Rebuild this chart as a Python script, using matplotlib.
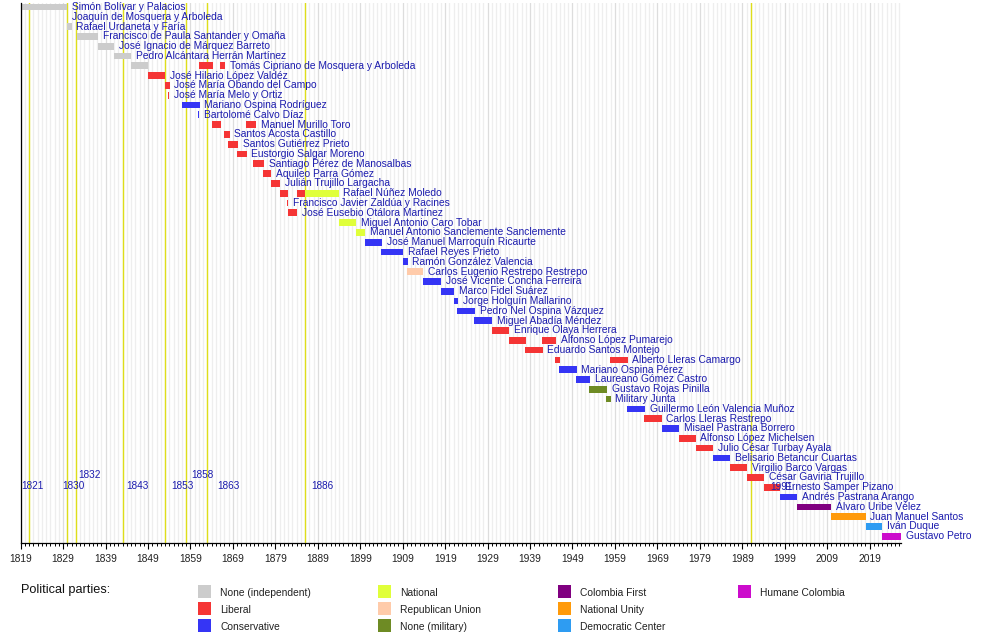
import matplotlib
matplotlib.use("Agg")
import matplotlib.pyplot as plt
from matplotlib.ticker import FixedLocator
from matplotlib.patches import Rectangle

plt.rcParams['font.family'] = ['Liberation Sans', 'DejaVu Sans']

# ---------------- data ----------------
names = [
    "Simón Bolívar y Palacios", "Joaquín de Mosquera y Arboleda", "Rafael Urdaneta y Faría",
    "Francisco de Paula Santander y Omaña", "José Ignacio de Márquez Barreto",
    "Pedro Alcántara Herrán Martínez", "Tomás Cipriano de Mosquera y Arboleda",
    "José Hilario López Valdéz", "José María Obando del Campo", "José María Melo y Ortiz",
    "Mariano Ospina Rodríguez", "Bartolomé Calvo Díaz", "Manuel Murillo Toro",
    "Santos Acosta Castillo", "Santos Gutiérrez Prieto", "Eustorgio Salgar Moreno",
    "Santiago Pérez de Manosalbas", "Aquileo Parra Gómez", "Julián Trujillo Largacha",
    "Rafael Núñez Moledo", "Francisco Javier Zaldúa y Racines", "José Eusebio Otálora Martínez",
    "Miguel Antonio Caro Tobar", "Manuel Antonio Sanclemente Sanclemente",
    "José Manuel Marroquín Ricaurte", "Rafael Reyes Prieto", "Ramón González Valencia",
    "Carlos Eugenio Restrepo Restrepo", "José Vicente Concha Ferreira", "Marco Fidel Suárez",
    "Jorge Holguín Mallarino", "Pedro Nel Ospina Vázquez", "Miguel Abadía Méndez",
    "Enrique Olaya Herrera", "Alfonso López Pumarejo", "Eduardo Santos Montejo",
    "Alberto Lleras Camargo", "Mariano Ospina Pérez", "Laureano Gómez Castro",
    "Gustavo Rojas Pinilla", "Military Junta", "Guillermo León Valencia Muñoz",
    "Carlos Lleras Restrepo", "Misael Pastrana Borrero", "Alfonso López Michelsen",
    "Julio César Turbay Ayala", "Belisario Betancur Cuartas", "Virgilio Barco Vargas",
    "César Gaviria Trujillo", "Ernesto Samper Pizano", "Andrés Pastrana Arango",
    "Álvaro Uribe Vélez", "Juan Manuel Santos", "Iván Duque", "Gustavo Petro",
]

party_names = ["None (independent)", "Liberal", "Conservative", "National", "Republican Union",
               "None (military)", "Colombia First", "National Unity", "Democratic Center",
               "Humane Colombia"]
party_colors = ["#cccccc", "#f53535", "#3535f5", "#e0ff3a", "#ffcbaa",
                "#6e8b24", "#800080", "#ff9a0a", "#2e9cf2", "#cc0ccc"]

term_who = [0, 1, 2, 3, 4, 5, 6, 6, 6, 7, 8, 9, 10, 11, 12, 12, 13, 14, 15, 16, 17, 18,
            19, 19, 19, 20, 21, 22, 23, 24, 25, 26, 27, 28, 29, 30, 31, 32, 33, 34, 34, 35,
            36, 36, 37, 38, 39, 40, 41, 42, 43, 44, 45, 46, 47, 48, 49, 50, 51, 52, 53, 54]
term_start = [1819.0, 1830.0, 1830.0, 1832.2, 1837.1, 1841.0, 1844.9, 1861.0, 1865.9, 1848.9,
              1853.0, 1853.7, 1856.9, 1860.8, 1864.0, 1872.0, 1867.0, 1867.9, 1869.9, 1873.8,
              1876.0, 1877.9, 1880.0, 1884.0, 1885.9, 1881.8, 1881.9, 1893.9, 1898.0, 1900.0,
              1904.0, 1909.0, 1909.9, 1913.9, 1918.0, 1921.0, 1921.9, 1925.9, 1930.0, 1934.1,
              1941.9, 1937.9, 1944.9, 1957.9, 1945.9, 1949.9, 1952.9, 1956.9, 1961.9, 1965.9,
              1970.0, 1974.1, 1978.0, 1982.1, 1986.1, 1990.1, 1994.1, 1998.0, 2002.0, 2010.0,
              2018.1, 2022.0]
term_end = [1830.0, 1830.0, 1831.0, 1837.2, 1841.0, 1845.1, 1849.1, 1864.3, 1867.1, 1853.0,
            1854.1, 1853.95, 1861.2, 1861.0, 1866.1, 1874.4, 1868.2, 1870.2, 1872.2, 1876.3,
            1878.0, 1880.1, 1882.0, 1885.9, 1893.9, 1882.05, 1884.1, 1898.0, 1900.2, 1904.1,
            1909.1, 1910.2, 1913.9, 1918.0, 1921.1, 1922.0, 1926.1, 1930.0, 1934.1, 1938.0,
            1945.1, 1942.0, 1946.1, 1962.0, 1950.0, 1953.1, 1957.1, 1958.0, 1966.1, 1970.0,
            1974.1, 1978.0, 1982.1, 1986.1, 1990.1, 1994.1, 1998.0, 2002.0, 2010.0, 2018.1,
            2022.0, 2026.4]
term_party = [0, 0, 0, 0, 0, 0, 0, 1, 1, 1, 1, 1, 2, 2, 1, 1, 1, 1, 1, 1, 1, 1,
              1, 1, 3, 1, 1, 3, 3, 2, 2, 2, 4, 2, 2, 2, 2, 2, 1, 1, 1, 1,
              1, 1, 2, 2, 5, 5, 2, 1, 2, 1, 1, 2, 1, 1, 1, 2, 6, 7, 8, 9]

constitution_years = [1821, 1830, 1832, 1843, 1853, 1858, 1863, 1886, 1991]
# where the year captions sit (layout only)
caption_dx = [-1.8, -1.2, 0.6, 0.9, 1.5, 1.2, 2.2, 1.4, 4.6]
caption_row = [48.85, 48.85, 47.8, 48.85, 48.85, 47.8, 48.85, 48.85, 48.95]

# ---------------- figure ----------------
W, H = 1000, 643
fig = plt.figure(figsize=(W / 100, H / 100), dpi=100)
ax_left, ax_right, ax_top, ax_bottom = 20.7, 901.0, 3.0, 543.3
ax = fig.add_axes([ax_left / W, 1 - ax_bottom / H, (ax_right - ax_left) / W, (ax_bottom - ax_top) / H])

x0, x1 = 1819.0, 2026.4
ax.set_xlim(x0, x1)
ax.set_ylim(54.72, -0.41)

# yearly grid lines
for yr in range(1819, 2027):
    col = "#dddddd" if (yr - 1819) % 10 == 0 else "#eeeeee"
    ax.axvline(yr, color=col, lw=0.9, zorder=0)

for yr in constitution_years:
    ax.axvline(yr, color="#dede1a", lw=1.0, zorder=0.5)

text_blue = "#1c1cae"
bar_h = 0.68
for w, s, e, p in zip(term_who, term_start, term_end, term_party):
    ax.barh(w, e - s, left=s, height=bar_h, color=party_colors[p], linewidth=0, zorder=2)

last_end = {}
for w, e in zip(term_who, term_end):
    last_end[w] = max(last_end.get(w, -1e9), e)
for i, name in enumerate(names):
    ax.text(last_end[i] + 1.1, i, name, va="center", ha="left", fontsize=7.4,
            color=text_blue, zorder=3, clip_on=False)

for yr, dx, r in zip(constitution_years, caption_dx, caption_row):
    ax.text(yr + dx, r, str(yr), va="center", ha="left", fontsize=7.2, color=text_blue, zorder=4)

for sp in ["top", "right"]:
    ax.spines[sp].set_visible(False)
for sp in ["left", "bottom"]:
    ax.spines[sp].set_linewidth(0.9)
    ax.spines[sp].set_color("black")
ax.set_yticks([])
ax.xaxis.set_major_locator(FixedLocator(list(range(1819, 2027, 10))))
ax.xaxis.set_minor_locator(FixedLocator(list(range(1819, 2027, 1))))
ax.tick_params(axis="x", which="major", length=4.5, width=0.8, pad=3.5, labelsize=7.4,
               labelcolor="#222222", direction="out")
ax.tick_params(axis="x", which="minor", length=2.2, width=0.7, direction="out")
ax.set_facecolor("white")

# ---------------- legend ----------------
fig.text(20.7 / W, 1 - 590 / H, "Political parties:", fontsize=9.2, va="center", ha="left",
         color="#111111")
col_x = [198.3, 378.3, 558.3, 738.3]
row_y = [591.5, 608.3, 625.3]
sw = 12.5
for k, (pn, pc) in enumerate(zip(party_names, party_colors)):
    cx = col_x[k // 3]
    cy = row_y[k % 3]
    fig.add_artist(Rectangle((cx / W, 1 - (cy + sw / 2) / H), sw / W, sw / H,
                             transform=fig.transFigure, facecolor=pc, edgecolor="none"))
    fig.text((cx + 22) / W, 1 - (cy + 1.8) / H, pn, fontsize=7.4, va="center", ha="left",
             color="#222222")

fig.savefig("out.png", dpi=100)
